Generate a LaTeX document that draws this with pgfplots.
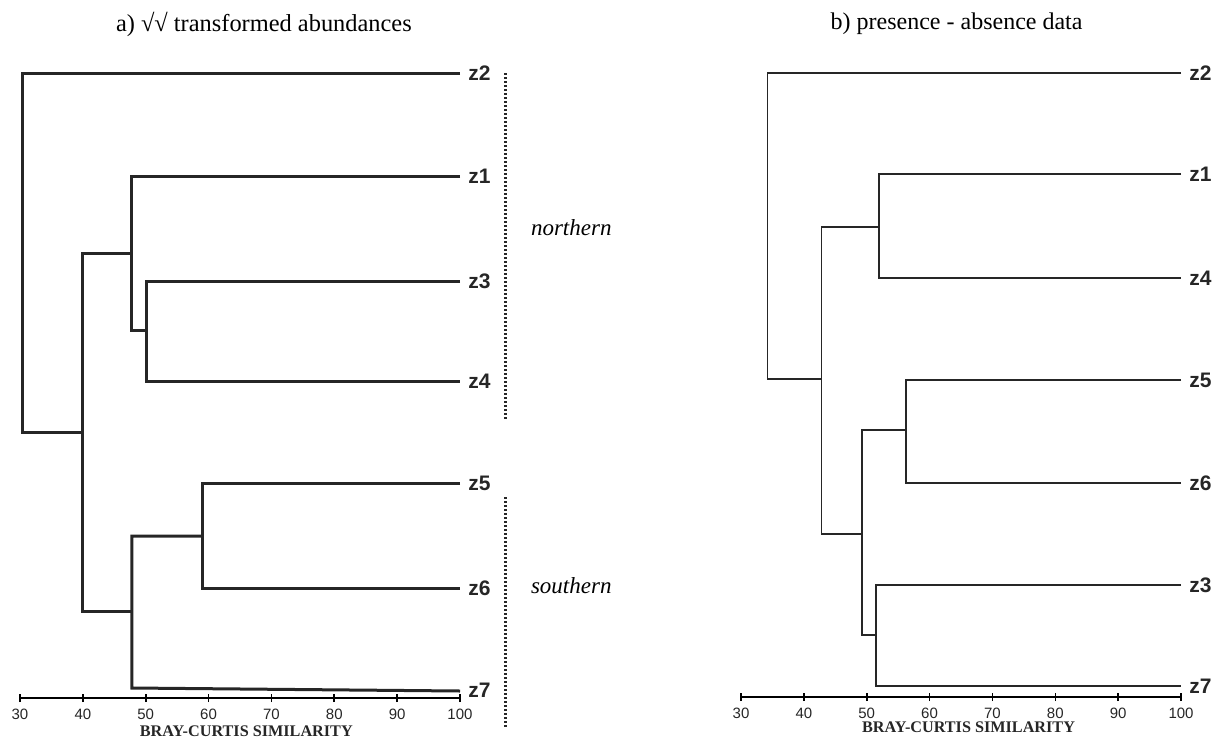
\documentclass[border=0pt]{standalone}
\usepackage{fontspec}
\setmainfont{Liberation Serif}
\newfontfamily\arial{Liberation Sans}
\usepackage{pgfplots}
\pgfplotsset{compat=1.18}

% one pixel of the reference = 0.5pt; y values are minus the pixel row
\pgfplotsset{
  dendro/.style={
    scale only axis, width=220pt,
    xmin=30, xmax=100, ymax=-60,
    axis x line*=bottom, hide y axis,
    xtick={30,40,...,100},
    xtick align=center, major tick length=4pt,
    tick style={black, line width=0.8pt},
    x axis line style={line width=1pt},
    /pgf/number format/assume math mode=true,
    tick label style={font=\arial\fontsize{7.5}{8}\selectfont, text=black!85},
    clip=false,
  },
}
\tikzset{
  leaf/.style={anchor=west, inner sep=0pt, xshift=4pt, font=\arial\bfseries\fontsize{10.5}{12}\selectfont, text=black!85},
  thickbr/.style={black!85, line width=1.5pt, line join=miter, mark=none},
  thinbr/.style={black!85, line width=0.9pt, line join=miter, mark=none},
  dots/.style={black!85, line width=1.4pt, dash pattern=on 1pt off 1pt},
  bcs/.style={font=\bfseries\fontsize{8.1}{9}\selectfont, text=black!85},
}

\begin{document}
\begin{tikzpicture}
\path[use as bounding box] (0,0) rectangle (609.5pt,-369pt);

% a) fourth-root transformed abundances
\begin{axis}[dendro, at={(10pt,-349pt)}, anchor=south west, ymin=-698, height=319pt]
\addplot[thickbr] coordinates {(100,-281) (50.2,-281) (50.2,-381) (100,-381)};
\addplot[thickbr] coordinates {(100,-176) (47.7,-176) (47.7,-330) (50.2,-330)};
\addplot[thickbr] coordinates {(100,-483) (59.0,-483) (59.0,-588) (100,-588)};
\addplot[thickbr] coordinates {(59.0,-536) (47.8,-536) (47.8,-688) (100,-691)};
\addplot[thickbr] coordinates {(47.7,-253) (39.9,-253) (39.9,-611) (47.8,-611)};
\addplot[thickbr] coordinates {(100,-73) (30.4,-73) (30.4,-432) (39.9,-432)};
\node[leaf] at (axis cs:100,-73) {z2};
\node[leaf] at (axis cs:100,-176) {z1};
\node[leaf] at (axis cs:100,-281) {z3};
\node[leaf] at (axis cs:100,-381) {z4};
\node[leaf] at (axis cs:100,-483) {z5};
\node[leaf] at (axis cs:100,-588) {z6};
\node[leaf] at (axis cs:100,-690) {z7};
\draw[dots] (axis cs:107.2,-73) -- (axis cs:107.2,-420);
\draw[dots] (axis cs:107.2,-497) -- (axis cs:107.2,-728);
\node[font=\itshape\fontsize{11.5}{13}\selectfont] at (axis cs:117.7,-228) {northern};
\node[font=\itshape\fontsize{11.5}{13}\selectfont] at (axis cs:117.7,-586) {southern};
\node[font=\fontsize{12.2}{14}\selectfont] at (axis cs:68.8,-24) {a) √√ transformed abundances};
\node[bcs] at (axis cs:66,-731) {BRAY-CURTIS SIMILARITY};
\end{axis}

% b) presence - absence data
\begin{axis}[dendro, at={(370.5pt,-348.5pt)}, anchor=south west, ymin=-697, height=318.5pt]
\addplot[thinbr] coordinates {(100,-174) (51.9,-174) (51.9,-278) (100,-278)};
\addplot[thinbr] coordinates {(100,-380) (56.3,-380) (56.3,-483) (100,-483)};
\addplot[thinbr] coordinates {(100,-585) (51.5,-585) (51.5,-686) (100,-686)};
\addplot[thinbr] coordinates {(56.3,-430) (49.2,-430) (49.2,-635) (51.5,-635)};
\addplot[thinbr] coordinates {(51.9,-227) (42.8,-227) (42.8,-534) (49.2,-534)};
\addplot[thinbr] coordinates {(100,-73) (34.2,-73) (34.2,-379) (42.8,-379)};
\node[leaf] at (axis cs:100,-73) {z2};
\node[leaf] at (axis cs:100,-174) {z1};
\node[leaf] at (axis cs:100,-278) {z4};
\node[leaf] at (axis cs:100,-380) {z5};
\node[leaf] at (axis cs:100,-483) {z6};
\node[leaf] at (axis cs:100,-585) {z3};
\node[leaf] at (axis cs:100,-686) {z7};
\node[font=\fontsize{12}{14}\selectfont] at (axis cs:64.3,-24) {b) presence - absence data};
\node[bcs] at (axis cs:66.2,-727) {BRAY-CURTIS SIMILARITY};
\end{axis}
\end{tikzpicture}
\end{document}
